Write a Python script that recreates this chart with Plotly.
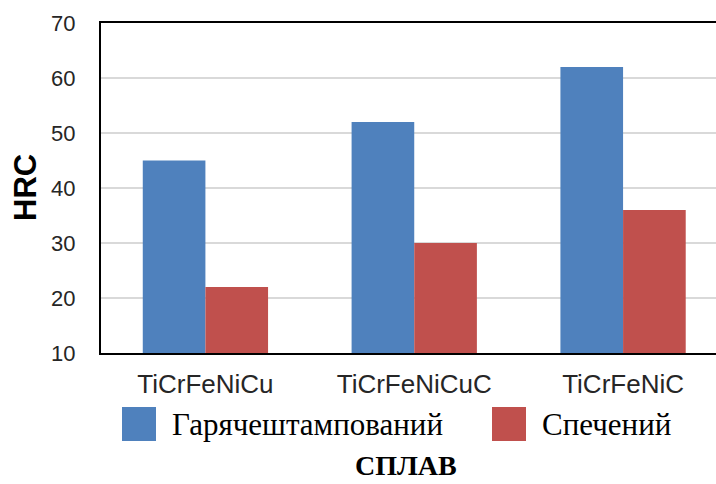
import plotly.graph_objects as go

# Alloy hardness data
alloys = ["TiCrFeNiCu", "TiCrFeNiCuC", "TiCrFeNiC"]
series_names = ["Гарячештампований", "Спечений"]
hot_stamped = [45, 52, 62]
sintered = [22, 30, 36]
y_ticks = [10, 20, 30, 40, 50, 60, 70]

colors = ["#4F81BD", "#C0504D"]
base = 10

fig = go.Figure()
for name, vals, col in zip(series_names, [hot_stamped, sintered], colors):
    fig.add_trace(go.Bar(
        x=alloys,
        y=[v - base for v in vals],
        base=base,
        name=name,
        marker=dict(color=col, line=dict(width=0)),
        showlegend=False,
    ))

fig.update_layout(
    width=716, height=484,
    margin=dict(l=101, r=0, t=23, b=131),
    paper_bgcolor="white", plot_bgcolor="white",
    barmode="group", bargap=0.4, bargroupgap=0,
    font=dict(family="Liberation Sans, Arial", color="#262626"),
)

fig.update_xaxes(
    range=[-0.5, 2.445],
    showline=True, linecolor="black", linewidth=2, mirror=True,
    showgrid=False, ticks="", tickfont=dict(size=26),
    ticklabelstandoff=7,
)
fig.update_yaxes(
    range=[10, 70], tickvals=y_ticks,
    showline=True, linecolor="black", linewidth=2, mirror=False,
    showgrid=True, gridcolor="#d9d9d9", gridwidth=1.5,
    ticks="", tickfont=dict(size=22), ticklabelstandoff=19,
    zeroline=False,
)

# Y axis title
fig.add_annotation(
    text="<b>HRC</b>", xref="paper", yref="paper",
    x=(25 - 101) / 615, y=(353 - 188) / 330,
    xanchor="center", yanchor="middle",
    textangle=-90, showarrow=False,
    font=dict(family="Liberation Sans, Arial", size=31, color="black"),
)

# Legend drawn as large squares with serif labels
legend_x = [122, 492]
for i, (name, col) in enumerate(zip(series_names, colors)):
    x0 = legend_x[i]
    fig.add_shape(
        type="rect", xref="paper", yref="paper",
        x0=(x0 - 101) / 615, x1=(x0 + 34 - 101) / 615,
        y0=(353 - 441) / 330, y1=(353 - 407) / 330,
        fillcolor=col, line=dict(width=0),
    )
    fig.add_annotation(
        text=name, xref="paper", yref="paper",
        x=(x0 + 48 - 101) / 615, y=(353 - 424) / 330,
        xanchor="left", yanchor="middle", showarrow=False,
        font=dict(family="Liberation Serif, Times New Roman", size=31, color="black"),
    )

# X axis title
fig.add_annotation(
    text="<b>СПЛАВ</b>", xref="paper", yref="paper",
    x=(406 - 101) / 615, y=(353 - 466) / 330,
    xanchor="center", yanchor="middle", showarrow=False,
    font=dict(family="Liberation Serif, Times New Roman", size=28, color="black"),
)

fig.write_html("out.html")
